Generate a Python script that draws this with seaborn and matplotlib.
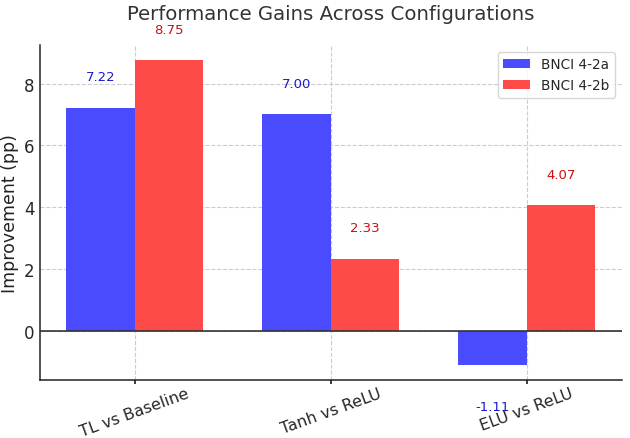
import pandas as pd
import matplotlib
matplotlib.use("Agg")
import matplotlib.pyplot as plt
import seaborn as sns

# values
CONFIGS = ["TL vs Baseline", "Tanh vs ReLU", "ELU vs ReLU"]
BNCI_A = [7.22, 7.00, -1.11]
BNCI_B = [8.75, 2.33, 4.07]
DATASETS = ["BNCI 4-2a", "BNCI 4-2b"]

BAR_COLORS = ["#4a4aff", "#ff4a4a"]
TEXT_COLORS = ["#1a1acc", "#cc1010"]


def build_frame():
    rows = []
    for name, vals in zip(DATASETS, [BNCI_A, BNCI_B]):
        for cfg, v in zip(CONFIGS, vals):
            rows.append({"config": cfg, "dataset": name, "gain": v})
    return pd.DataFrame(rows)


def main():
    sns.set_theme(style="ticks")
    plt.rcParams['font.family'] = ['DejaVu Sans']

    df = build_frame()
    fig, ax = plt.subplots(figsize=(6.3, 4.39), dpi=100)

    sns.barplot(data=df, x="config", y="gain", hue="dataset",
                palette=BAR_COLORS, width=0.7, saturation=1,
                linewidth=0, ax=ax)

    # value labels above / below each bar
    n = len(CONFIGS)
    for j, (vals, tc) in enumerate(zip([BNCI_A, BNCI_B], TEXT_COLORS)):
        for i, v in enumerate(vals):
            x = i + (j - 0.5) * 0.35
            y = v + 1.0 if v >= 0 else v - 1.35
            ax.text(x, y, f"{v:.2f}", ha="center", va="center",
                    color=tc, fontsize=9.5)

    ax.axhline(0, color="#333333", linewidth=1.2, zorder=3)
    ax.set_xlim(-0.485, n - 1 + 0.485)

    ax.set_axisbelow(True)
    ax.grid(True, linestyle="--", color="#cccccc", linewidth=0.8)
    ax.xaxis.grid(True, linestyle="--", color="#cccccc", linewidth=0.8)

    sns.despine(ax=ax)
    for s in ["left", "bottom"]:
        ax.spines[s].set_color("#222222")
        ax.spines[s].set_linewidth(1.1)

    ax.set_title("Performance Gains Across Configurations", fontsize=14.2,
                 color="#333333", pad=19)
    ax.set_xlabel("")
    ax.set_ylabel("Improvement (pp)", fontsize=12.5, color="#222222")
    ax.tick_params(axis="y", labelsize=12, length=0)
    ax.tick_params(axis="x", labelsize=11.5, length=3, pad=0.5)
    plt.setp(ax.get_xticklabels(), rotation=20)

    leg = ax.legend(loc="upper right", fontsize=9.8, title=None,
                    frameon=True)
    leg.get_frame().set_edgecolor("#cccccc")

    plt.subplots_adjust(left=0.063, right=0.987, top=0.895, bottom=0.131)
    fig.savefig("out.png", dpi=100)


if (__name__ == '__main__'):
    main()
